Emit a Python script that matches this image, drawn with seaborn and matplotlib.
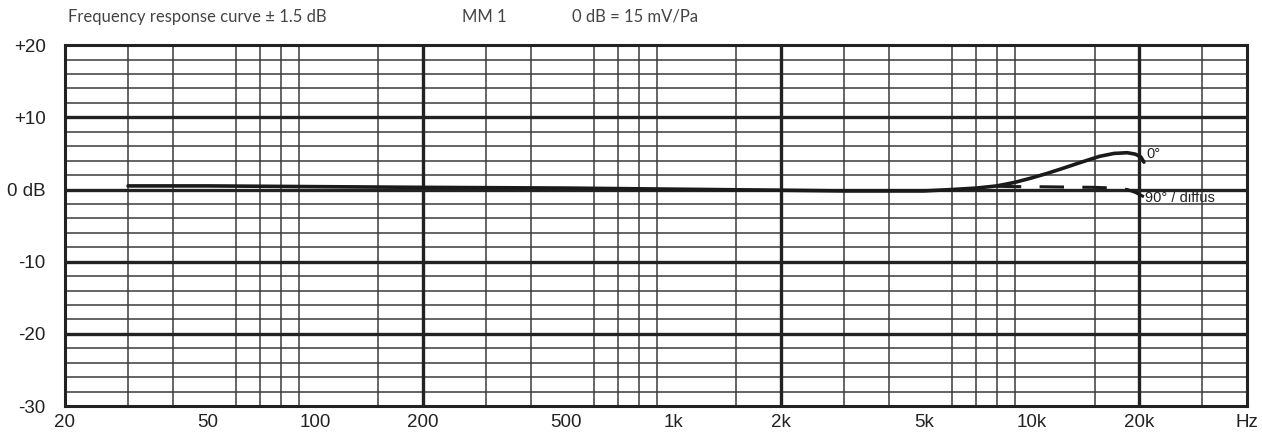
import numpy as np
import pandas as pd
import matplotlib
import matplotlib.pyplot as plt
import seaborn as sns
from matplotlib.ticker import FixedLocator, NullFormatter

matplotlib.use('Agg')

# Frequency response readings (Hz, dB)
freq_0 = [30, 50, 100, 200, 500, 1000, 2000, 3000, 5000, 6000, 7000, 8000,
          9000, 10000, 11000, 12000, 14000, 15500, 17000, 18500, 19500, 20200, 20600]
db_0 = [0.5, 0.5, 0.4, 0.3, 0.2, 0.05, -0.1, -0.2, -0.2, 0.0, 0.2, 0.5,
        1.0, 1.6, 2.2, 2.8, 3.9, 4.6, 5.0, 5.1, 4.9, 4.5, 3.8]

freq_90 = [8000, 9000, 10000, 12000, 15000, 17000, 18500, 19500, 20200, 20600]
db_90 = [0.45, 0.4, 0.4, 0.35, 0.3, 0.2, 0.0, -0.4, -0.8, -1.0]

x_ticks = [20, 50, 100, 200, 500, 1000, 2000, 5000, 10000, 20000, 40000]
x_labels = ['20', '50', '100', '200', '500', '1k', '2k', '5k', '10k', '20k', 'Hz']
y_ticks = [-30, -20, -10, 0, 10, 20]
y_labels = ['-30', '-20', '-10', '0 dB', '+10', '+20']

grid_freqs = [30, 40, 50, 60, 70, 80, 90, 100, 150, 200, 300, 400, 500, 600, 700,
              800, 900, 1000, 1500, 2000, 3000, 4000, 5000, 6000, 7000, 8000,
              9000, 10000, 15000, 20000, 30000]
bold_freqs = [200, 2000, 20000]

df0 = pd.DataFrame({'freq': freq_0, 'db': db_0})
df90 = pd.DataFrame({'freq': freq_90, 'db': db_90})

sns.set_style('white')
plt.rcParams['font.family'] = ['Liberation Sans', 'DejaVu Sans']

fig = plt.figure(figsize=(12.62, 4.43), dpi=100)
ax = fig.add_axes([0.0515, 0.0835, 0.9367, 0.8145])

ax.set_xscale('log')
ax.set_xlim(20, 40000)
ax.set_ylim(-30, 20)

# grid
ax.xaxis.set_minor_locator(FixedLocator(grid_freqs))
ax.xaxis.set_minor_formatter(NullFormatter())
ax.yaxis.set_minor_locator(FixedLocator(list(range(-30, 21, 2))))
ax.grid(which='minor', color='#3a3a3a', linewidth=1.1)
ax.grid(which='major', visible=False)
for f in bold_freqs:
    ax.axvline(f, color='#222222', linewidth=2.4, zorder=1)
for y in [-20, -10, 0, 10]:
    ax.axhline(y, color='#222222', linewidth=2.4, zorder=1)

sns.lineplot(data=df0, x='freq', y='db', ax=ax, color='#1a1a1a', linewidth=2.6, zorder=3)
sns.lineplot(data=df90, x='freq', y='db', ax=ax, color='#1a1a1a', linewidth=2.2,
             dashes=False, zorder=3)
ax.lines[-1].set_dashes([8, 6])

ax.set_xticks(x_ticks)
ax.set_xticklabels(x_labels)
ax.set_yticks(y_ticks)
ax.set_yticklabels(y_labels)
ax.tick_params(which='both', length=0, labelsize=13.5, colors='#222222')
ax.tick_params(axis='y', pad=14)
ax.tick_params(axis='x', pad=6)
ax.set_xlabel('')
ax.set_ylabel('')

for s in ax.spines.values():
    s.set_linewidth(2.2)
    s.set_color('#222222')

ax.text(20900, 4.9, '0°', fontsize=10.5, color='#222222', va='center', ha='left')
ax.text(20700, -1.2, '90° / diffus', fontsize=10.5, color='#222222', va='center', ha='left')

fig.text(68 / 1262, 1 - 17 / 443, 'Frequency response curve ± 1.5 dB', fontsize=12,
         family=['Lato', 'DejaVu Sans'], color='#444444', va='center')
fig.text(462 / 1262, 1 - 17 / 443, 'MM 1', fontsize=12,
         family=['Lato', 'DejaVu Sans'], color='#444444', va='center')
fig.text(572 / 1262, 1 - 17 / 443, '0 dB = 15 mV/Pa', fontsize=12,
         family=['Lato', 'DejaVu Sans'], color='#444444', va='center')

fig.savefig('out.png', dpi=100, facecolor='white')
